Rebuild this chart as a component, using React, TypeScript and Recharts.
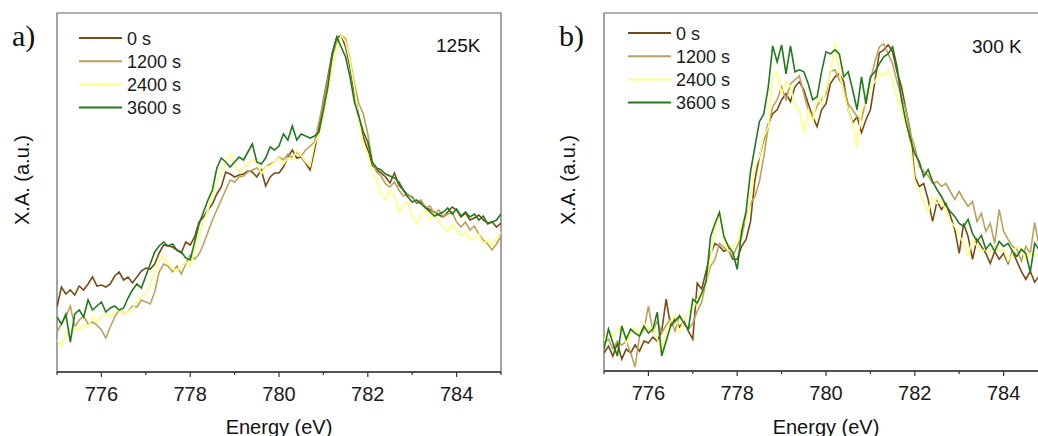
import React from 'react';
import { LineChart, Line, XAxis, YAxis, Legend, ReferenceArea } from 'recharts';

const FONT = "'Liberation Sans', Arial, sans-serif";
const SERIF = "'Liberation Serif', 'Times New Roman', serif";

const seriesNames = ['0 s', '1200 s', '2400 s', '3600 s'];
const seriesColors = ['#7a4a14', '#bba25c', '#ffff80', '#1f7a1c'];
const xTicks = [775, 776, 777, 778, 779, 780, 781, 782, 783, 784, 785];
const panelTags = ['a)', 'b)'];
const panelTemps = ['125K', '300 K'];
const xTitle = 'Energy (eV)';
const yTitle = 'X.A. (a.u.)';

const energies = [
  775.0, 775.1, 775.2, 775.3, 775.4, 775.5, 775.6, 775.7, 775.8, 775.9,
  776.0, 776.1, 776.2, 776.3, 776.4, 776.5, 776.6, 776.7, 776.8, 776.9,
  777.0, 777.1, 777.2, 777.3, 777.4, 777.5, 777.6, 777.7, 777.8, 777.9,
  778.0, 778.1, 778.2, 778.3, 778.4, 778.5, 778.6, 778.7, 778.8, 778.9,
  779.0, 779.1, 779.2, 779.3, 779.4, 779.5, 779.6, 779.7, 779.8, 779.9,
  780.0, 780.1, 780.2, 780.3, 780.4, 780.5, 780.6, 780.7, 780.8, 780.9,
  781.0, 781.1, 781.2, 781.3, 781.4, 781.5, 781.6, 781.7, 781.8, 781.9,
  782.0, 782.1, 782.2, 782.3, 782.4, 782.5, 782.6, 782.7, 782.8, 782.9,
  783.0, 783.1, 783.2, 783.3, 783.4, 783.5, 783.6, 783.7, 783.8, 783.9,
  784.0, 784.1, 784.2, 784.3, 784.4, 784.5, 784.6, 784.7, 784.8, 784.9,
  785.0,
];

// Panel a) 125K
const a0s = [
  65, 85, 78, 82, 77, 86, 82, 88, 95, 86,
  87, 85, 88, 96, 100, 92, 95, 89, 95, 101,
  104, 103, 108, 119, 127, 126, 125, 122, 119, 130,
  127, 135, 150, 155, 162, 168, 178, 185, 200, 198,
  195, 197, 198, 201, 200, 195, 202, 186, 195, 199,
  199, 205, 215, 222, 214, 215, 209, 202, 222, 245,
  272, 295, 319, 334, 337, 325, 305, 279, 255, 235,
  222, 207, 202, 199, 195, 189, 199, 187, 182, 177,
  175, 169, 170, 165, 162, 160, 157, 155, 160, 165,
  162, 155, 159, 152, 154, 157, 152, 149, 150, 145,
  149,
];
const a1200s = [
  40, 48, 55, 66, 45, 52, 56, 48, 50, 47,
  42, 34, 45, 55, 62, 58, 60, 66, 65, 72,
  70, 68, 80, 100, 108, 106, 100, 106, 98, 108,
  117, 113, 118, 128, 140, 152, 162, 172, 182, 192,
  190, 195, 196, 200, 202, 204, 200, 205, 208, 210,
  215, 212, 218, 214, 220, 216, 222, 226, 230, 250,
  270, 292, 315, 330, 337, 333, 312, 288, 268, 258,
  238, 210, 200, 196, 188, 185, 190, 182, 176, 178,
  174, 170, 172, 164, 166, 158, 162, 155, 158, 160,
  150, 145, 150, 142, 146, 138, 132, 128, 122, 128,
  136,
];
const a2400s = [
  32, 26, 38, 42, 45, 42, 47, 45, 55, 50,
  56, 58, 55, 60, 62, 58, 60, 64, 70, 76,
  78, 88, 100, 112, 116, 108, 104, 101, 106, 110,
  106, 122, 138, 150, 162, 178, 190, 200, 212, 218,
  206, 200, 205, 208, 212, 210, 198, 205, 206, 210,
  214, 208, 214, 212, 222, 216, 210, 206, 228, 238,
  258, 282, 305, 325, 337, 330, 310, 284, 250, 228,
  218, 200, 192, 178, 172, 182, 175, 160, 168, 170,
  156, 148, 158, 162, 152, 158, 150, 145, 140, 148,
  142, 136, 140, 132, 134, 138, 128, 133, 126, 135,
  140,
];
const a3600s = [
  55, 48, 58, 30, 58, 62, 55, 72, 62, 66,
  70, 60, 64, 66, 62, 64, 74, 82, 88, 84,
  96, 108, 120, 126, 130, 126, 128, 122, 120, 114,
  112, 130, 148, 160, 172, 182, 204, 214, 210, 205,
  210, 215, 212, 220, 228, 210, 208, 214, 225, 222,
  226, 238, 232, 246, 232, 238, 236, 234, 236, 240,
  262, 285, 318, 335, 325, 315, 295, 270, 255, 240,
  230, 210, 204, 202, 198, 196, 194, 190, 182, 175,
  170, 172, 168, 164, 160, 156, 158, 160, 164, 158,
  163, 156, 160, 155, 158, 152, 156, 148, 150, 152,
  158,
];

// Panel b) 300 K
const b0s = [
  18, 25, 15, 28, 12, 22, 18, 26, 20, 30,
  28, 34, 30, 40, 72, 45, 52, 44, 50, 40,
  32, 88, 82, 100, 118, 128, 125, 120, 122, 112,
  112, 125, 132, 150, 192, 215, 232, 248, 258, 262,
  272, 278, 270, 285, 290, 282, 268, 255, 245, 262,
  268, 288, 295, 298, 290, 262, 249, 255, 239, 252,
  262, 290, 319, 322, 327, 320, 300, 285, 262, 240,
  195, 185, 188, 172, 150, 170, 162, 168, 156, 142,
  118, 148, 135, 112, 132, 125, 118, 108, 120, 112,
  118, 108, 120, 110, 100, 92, 100, 89, 95, 92,
  95,
];
const b1200s = [
  28, 32, 22, 30, 26, 30, 18, 4, 35, 42,
  65, 40, 50, 38, 46, 52, 40, 56, 48, 42,
  48, 60, 69, 90, 105, 112, 128, 124, 120, 115,
  125, 135, 155, 168, 175, 190, 215, 245, 265, 272,
  285, 272, 288, 292, 296, 278, 262, 255, 266, 272,
  278, 300, 302, 292, 285, 268, 262, 255, 252, 272,
  292, 310, 325, 328, 318, 308, 290, 275, 262, 238,
  225, 205, 200, 196, 188, 190, 185, 188, 180, 172,
  180, 172, 165, 170, 150, 158, 140, 148, 128, 162,
  140, 132, 125, 122, 110, 125, 118, 149, 125, 120,
  128,
];
const b2400s = [
  30, 42, 34, 40, 45, 28, 38, 44, 36, 48,
  40, 45, 32, 18, 40, 50, 56, 38, 52, 60,
  62, 72, 80, 88, 115, 140, 160, 132, 120, 125,
  130, 148, 150, 172, 205, 215, 235, 245, 295, 300,
  278, 290, 285, 265, 262, 239, 262, 250, 275, 268,
  282, 298, 329, 300, 278, 262, 248, 225, 262, 270,
  285, 290, 299, 296, 302, 290, 275, 259, 248, 228,
  190, 182, 170, 159, 175, 168, 172, 160, 150, 145,
  136, 128, 115, 132, 125, 120, 122, 118, 126, 120,
  122, 110, 118, 125, 122, 112, 118, 115, 120, 118,
  122,
];
const b3600s = [
  22, 42, 28, 15, 45, 32, 42, 38, 35, 45,
  38, 42, 59, 15, 30, 45, 50, 55, 48, 42,
  72, 68, 78, 90, 135, 148, 159, 135, 125, 119,
  102, 140, 160, 200, 225, 250, 258, 285, 326, 310,
  327, 298, 326, 300, 302, 300, 288, 272, 275, 300,
  320, 318, 322, 318, 295, 300, 282, 262, 295, 268,
  295, 300, 308, 315, 318, 325, 305, 272, 250, 232,
  218, 210, 195, 202, 190, 182, 175, 166, 160, 155,
  148, 145, 152, 138, 130, 136, 122, 128, 120, 130,
  125, 128, 120, 115, 122, 118, 99, 128, 122, 118,
  125,
];

const buildRows = (s0: number[], s1: number[], s2: number[], s3: number[]) =>
  energies.map((e, i) => ({ e, s0: s0[i], s1: s1[i], s2: s2[i], s3: s3[i] }));

const dataA = buildRows(a0s, a1200s, a2400s, a3600s);
const dataB = buildRows(b0s, b1200s, b2400s, b3600s);

const AxisTick = (props: any) => {
  const { x, y, payload } = props;
  const v = payload.value;
  const major = v % 2 === 0;
  return (
    <g>
      <line x1={x} x2={x} y1={y} y2={y + (major ? 5 : 3)} stroke="#333" strokeWidth={1.2} />
      {major ? (
        <text x={x} y={y + 29} textAnchor="middle" fontSize={20} fontFamily={FONT} fill="#1a1a1a">
          {v}
        </text>
      ) : null}
    </g>
  );
};

const makeLegend = (lx: number, ly: number) => (props: any) => {
  const payload = props.payload || [];
  return (
    <svg width={130} height={100} style={{ display: 'block', overflow: 'visible' }}>
      {payload.map((p: any, i: number) => {
        const cy = ly + i * 23.2;
        return (
          <g key={i}>
            <line x1={lx} x2={lx + 43} y1={cy} y2={cy} stroke={p.color} strokeWidth={2} />
            <text x={lx + 48} y={cy + 6.5} fontSize={18} fontFamily={FONT} fill="#1a1a1a">
              {p.value}
            </text>
          </g>
        );
      })}
    </svg>
  );
};

type PanelProps = {
  data: any[];
  width: number;
  height: number;
  margin: { top: number; right: number; bottom: number; left: number };
  axisHeight: number;
  legendPos: { left: number; top: number };
};

const Panel = ({ data, width, height, margin, axisHeight, legendPos }: PanelProps) => (
  <LineChart width={width} height={height} data={data} margin={margin}>
    <XAxis
      dataKey="e"
      type="number"
      domain={[775, 785]}
      ticks={xTicks}
      interval={0}
      allowDataOverflow
      height={axisHeight}
      tickSize={0}
      tickMargin={0}
      tickLine={false}
      axisLine={{ stroke: '#333', strokeWidth: 1.3 }}
      tick={<AxisTick />}
    />
    <YAxis type="number" domain={[0, 359]} hide allowDataOverflow />
    <ReferenceArea
      x1={775}
      x2={785}
      y1={0}
      y2={359}
      fill="none"
      fillOpacity={0}
      stroke="#666"
      strokeWidth={1.2}
      ifOverflow="visible"
    />
    <Legend
      layout="vertical"
      align="center"
      verticalAlign="middle"
      wrapperStyle={{ left: legendPos.left, top: legendPos.top, width: 130, height: 100 }}
      content={makeLegend(9, 13)}
    />
    {seriesNames.map((name, i) => (
      <Line
        key={name}
        dataKey={`s${i}`}
        name={name}
        type="linear"
        stroke={seriesColors[i]}
        strokeWidth={1.6}
        dot={false}
        activeDot={false}
        isAnimationActive={false}
      />
    ))}
  </LineChart>
);

export default function App() {
  return (
    <div
      style={{
        position: 'fixed',
        left: 0,
        top: 0,
        width: 1038,
        height: 436,
        overflow: 'hidden',
        background: '#fff',
      }}
    >
      <div style={{ position: 'absolute', left: 0, top: 0 }}>
        <Panel
          data={dataA}
          width={520}
          height={436}
          margin={{ top: 13, right: 19, bottom: 0, left: 57 }}
          axisHeight={64}
          legendPos={{ left: 70, top: 25 }}
        />
      </div>
      <div style={{ position: 'absolute', left: 520, top: 0 }}>
        <Panel
          data={dataB}
          width={560}
          height={436}
          margin={{ top: 13, right: 32, bottom: 0, left: 84 }}
          axisHeight={65}
          legendPos={{ left: 99, top: 20 }}
        />
      </div>
      <svg
        width={1038}
        height={436}
        style={{ position: 'absolute', left: 0, top: 0, pointerEvents: 'none' }}
      >
        <text x={12} y={46} fontSize={30} fontFamily={SERIF} fill="#111">{panelTags[0]}</text>
        <text x={559} y={46} fontSize={30} fontFamily={SERIF} fill="#111">{panelTags[1]}</text>
        <text x={436} y={51.7} fontSize={19} fontFamily={FONT} fill="#111">{panelTemps[0]}</text>
        <text x={972} y={52.5} fontSize={19} fontFamily={FONT} fill="#111">{panelTemps[1]}</text>
        <text x={279} y={433.5} textAnchor="middle" fontSize={20} fontFamily={FONT} fill="#111">{xTitle}</text>
        <text x={826} y={433.5} textAnchor="middle" fontSize={20} fontFamily={FONT} fill="#111">{xTitle}</text>
        <text transform="translate(28.5,180) rotate(-90)" textAnchor="middle" fontSize={20} fontFamily={FONT} fill="#111">{yTitle}</text>
        <text transform="translate(575,180) rotate(-90)" textAnchor="middle" fontSize={20} fontFamily={FONT} fill="#111">{yTitle}</text>
      </svg>
    </div>
  );
}
